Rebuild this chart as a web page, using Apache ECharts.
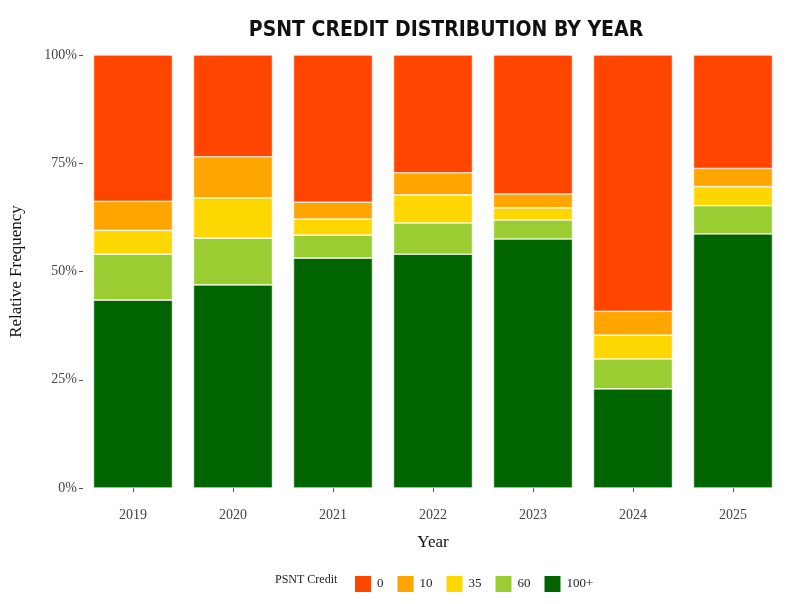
<!DOCTYPE html>
<html lang="en">
<head>
<meta charset="UTF-8">
<title>PSNT Credit Distribution</title>
<script src="https://cdn.jsdelivr.net/npm/echarts@6/dist/echarts.min.js"></script>
<style>body{margin:0;background:#fff}#chart{width:800px;height:604px}</style>
</head>
<body>
<div id="chart"></div>
<script>
var years = ['2019', '2020', '2021', '2022', '2023', '2024', '2025'];
var credits = ['0', '10', '35', '60', '100+'];
var colors = ['#FF4500', '#FFA500', '#FFD700', '#9ACD32', '#006400'];
// percent per credit class, each year
var c100 = [43.4, 46.9, 53.1, 54.0, 57.5, 22.9, 58.7];
var c60 = [10.6, 10.8, 5.3, 7.2, 4.4, 6.9, 6.5];
var c35 = [5.5, 9.3, 3.7, 6.5, 2.8, 5.5, 4.4];
var c10 = [6.7, 9.5, 3.9, 5.1, 3.2, 5.5, 4.2];
var c0 = [33.8, 23.5, 34.0, 27.2, 32.1, 59.2, 26.2];

var values = {'0': c0, '10': c10, '35': c35, '60': c60, '100+': c100};
var stackOrder = ['100+', '60', '35', '10', '0'];

var mychart = echarts.init(document.getElementById('chart'));
var series = stackOrder.map(function (k) {
    return {
        name: k,
        type: 'bar',
        stack: 'all',
        barWidth: '79%',
        data: values[k],
        itemStyle: {color: colors[credits.indexOf(k)], borderColor: '#fff', borderWidth: 0.6}
    };
});
var option = {
    backgroundColor: '#fff',
    animation: false,
    title: {
        text: 'PSNT CREDIT DISTRIBUTION BY YEAR',
        left: 441, top: 15, textAlign: 'center',
        textStyle: {fontFamily: 'DejaVu Sans Condensed', fontWeight: 'bold', fontSize: 21, color: '#111'}
    },
    graphic: [{
        type: 'text', left: 275, top: 574,
        style: {text: 'PSNT Credit', font: '12px "Liberation Serif"', fill: '#222'}
    }],
    legend: {
        data: credits,
        left: 348, top: 569,
        itemWidth: 18, itemHeight: 18, itemGap: 12,
        icon: 'rect',
        textStyle: {fontFamily: 'Liberation Serif', fontSize: 13, color: '#222'}
    },
    grid: {left: 76, right: 17, top: 55, bottom: 116},
    xAxis: {
        type: 'category',
        data: years,
        name: 'Year', nameLocation: 'middle', nameGap: 46,
        nameTextStyle: {fontFamily: 'Liberation Serif', fontSize: 17, color: '#111'},
        axisLine: {show: false},
        axisTick: {show: true, alignWithLabel: true, lineStyle: {color: '#555'}, length: 4},
        axisLabel: {fontFamily: 'Liberation Serif', fontSize: 14, color: '#444', margin: 20}
    },
    yAxis: {
        type: 'value', min: 0, max: 100, interval: 25,
        name: 'Relative Frequency', nameLocation: 'middle', nameGap: 58,
        nameTextStyle: {fontFamily: 'Liberation Serif', fontSize: 17, color: '#111'},
        splitLine: {show: false},
        axisLine: {show: false},
        axisTick: {show: true, length: 4, lineStyle: {color: '#555'}},
        axisLabel: {formatter: '{value}%', fontFamily: 'Liberation Serif', fontSize: 14, color: '#444', margin: 6}
    },
    series: series
};
mychart.setOption(option);
</script>
</body>
</html>
